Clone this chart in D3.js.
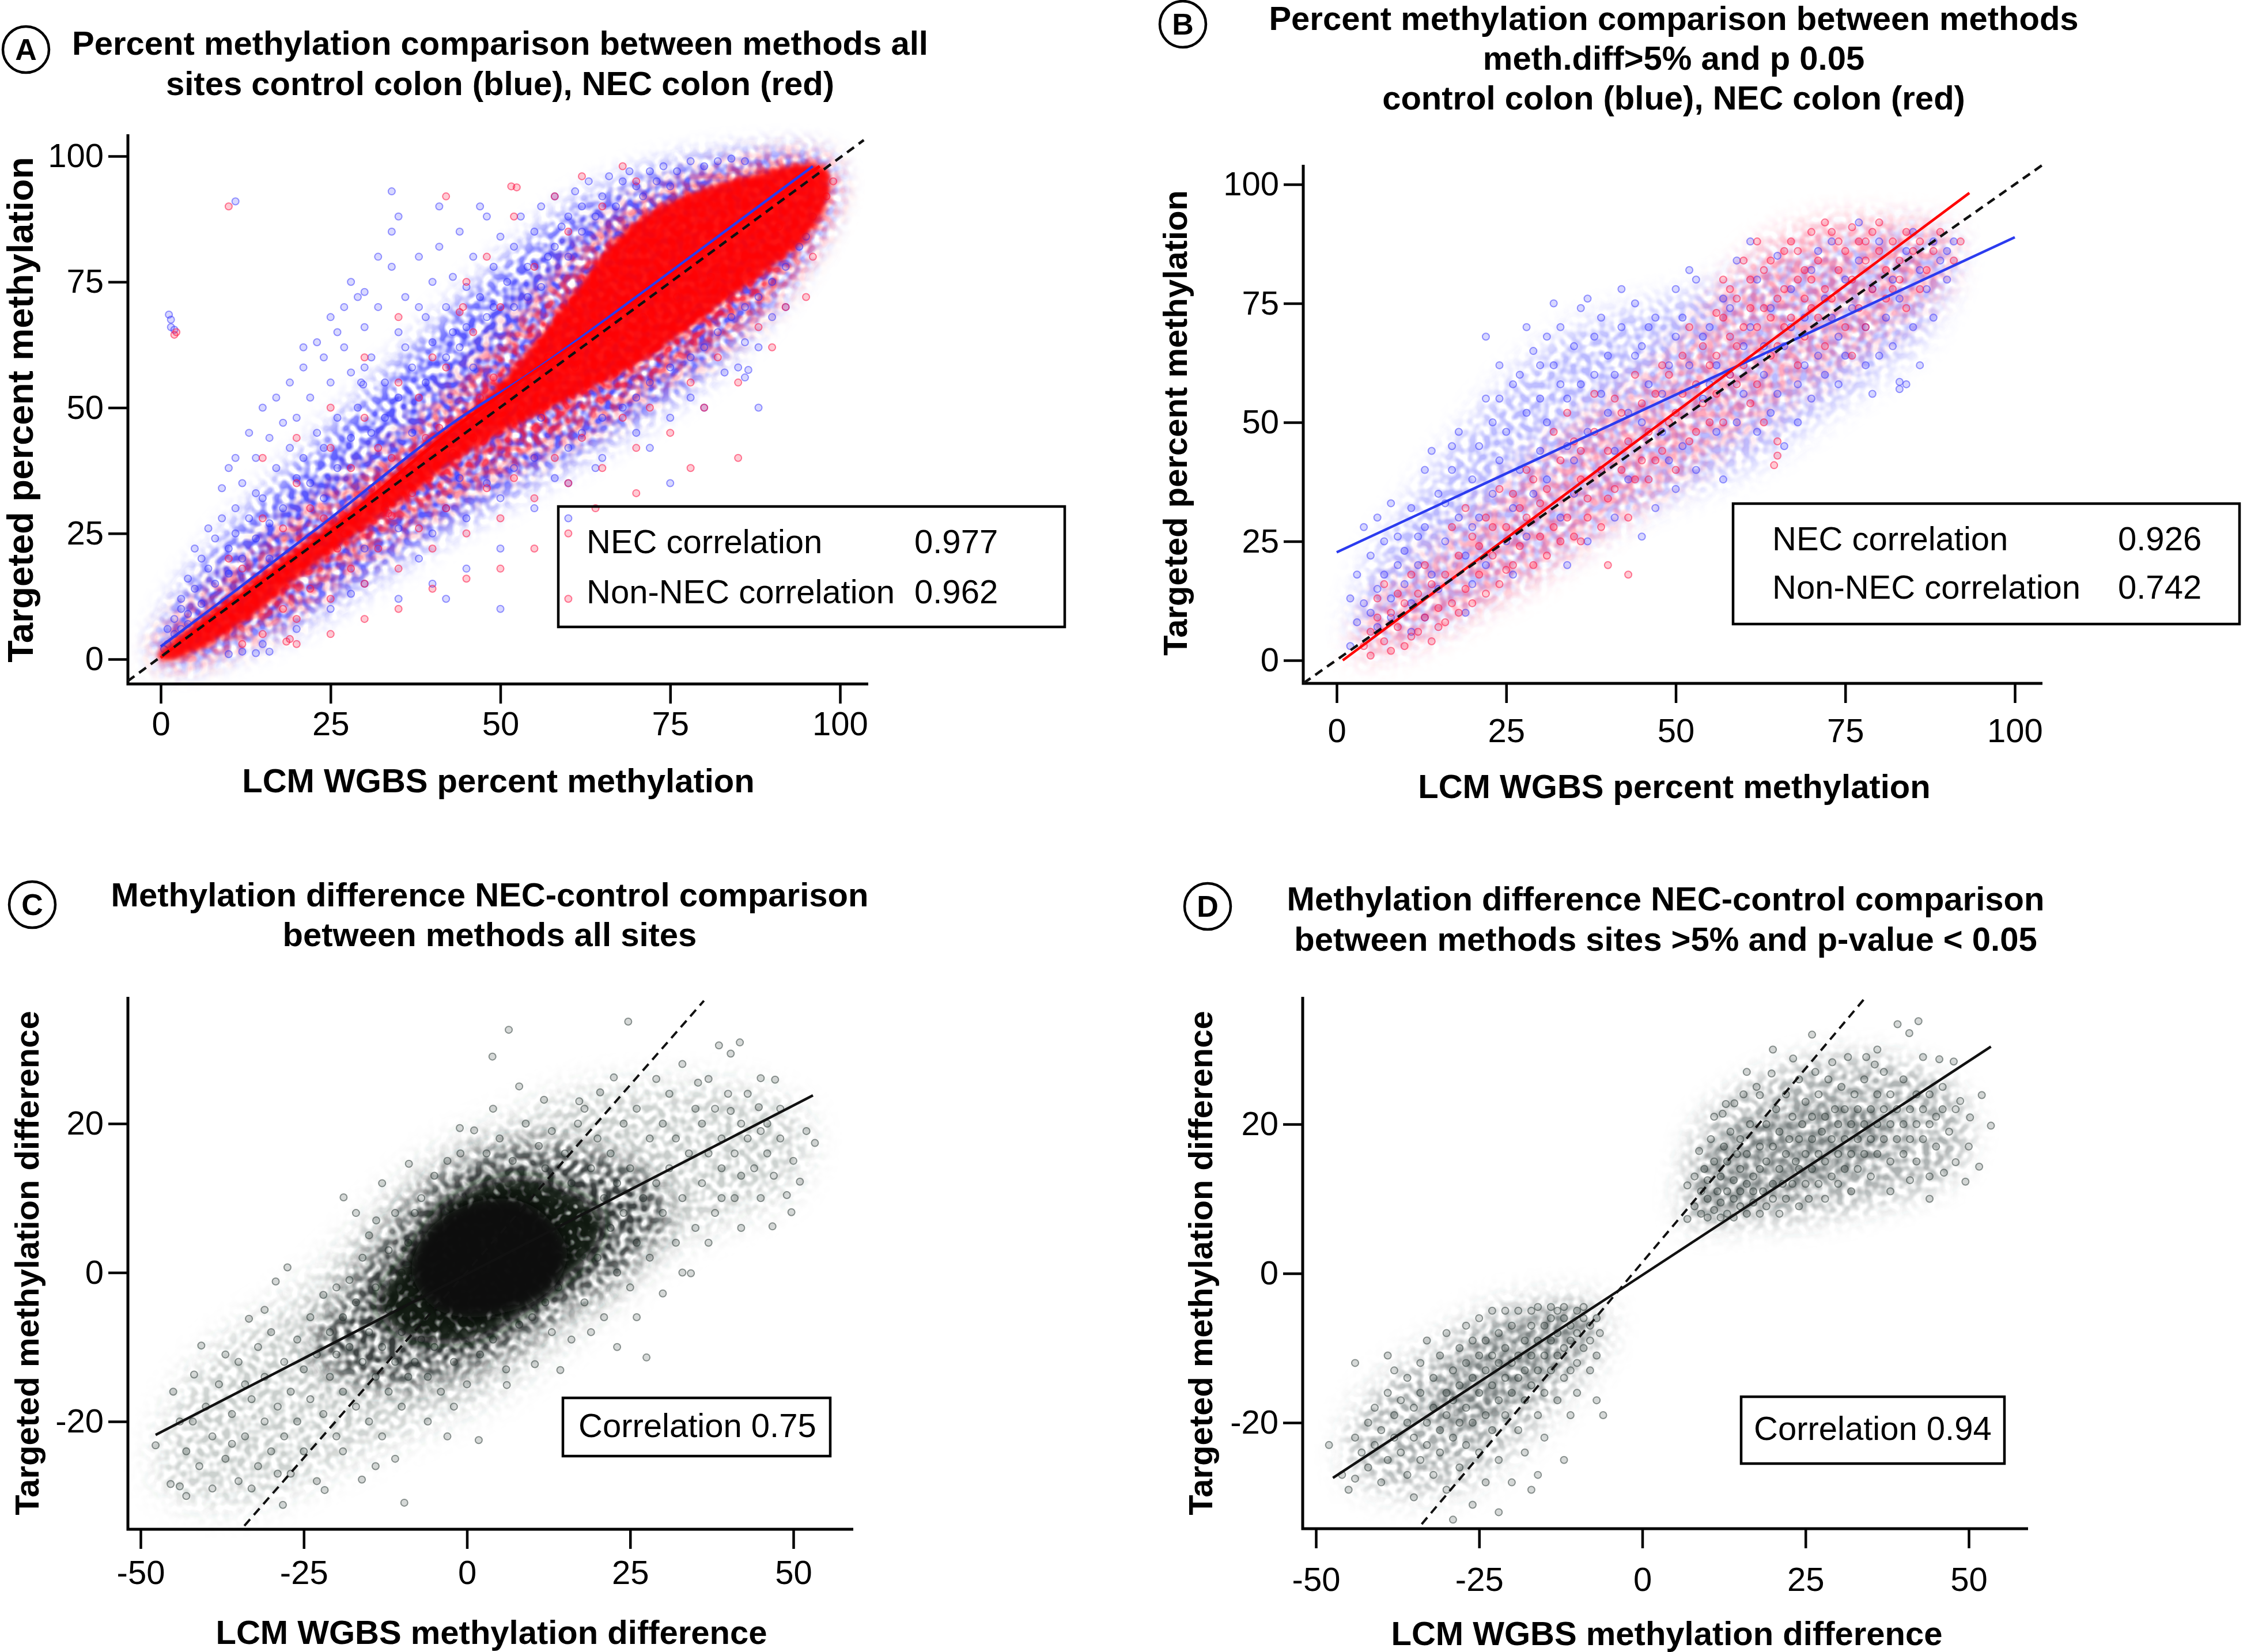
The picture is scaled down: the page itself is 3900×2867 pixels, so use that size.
<!DOCTYPE html>
<html>
<head>
<meta charset="utf-8">
<script src="https://cdn.jsdelivr.net/npm/d3@7"></script>
<style>
  body { margin: 0; background: #fff; }
  svg { display: block; }
</style>
</head>
<body>
<svg id="fig" width="3900" height="2867"></svg>
<script>
// ---------- tick labels ----------
const pctTicks = [0, 25, 50, 75, 100];
const diffXTicks = [-50, -25, 0, 25, 50];
const diffYTicks = [-20, 0, 20];

// ---------- text ----------
const titleA = ["Percent methylation comparison between methods all", "sites control colon (blue), NEC colon (red)"];
const titleB = ["Percent methylation comparison between methods", "meth.diff>5% and p 0.05", "control colon (blue), NEC colon (red)"];
const titleC = ["Methylation difference NEC-control comparison", "between methods all sites"];
const titleD = ["Methylation difference NEC-control comparison", "between methods sites >5% and p-value < 0.05"];
const legendA = [["NEC correlation", "0.977"], ["Non-NEC correlation", "0.962"]];
const legendB = [["NEC correlation", "0.926"], ["Non-NEC correlation", "0.742"]];
const corrC = "Correlation 0.75";
const corrD = "Correlation 0.94";

// ---------- fitted lines ----------
const aNecFit = [[0,0.3],[10,10.8],[24,24.6],[44,46.7],[64,65.5],[80,81.3],[97,98]];
const aCtrlFit = [[0,2.5],[10,12.6],[24,27],[44,47.9],[54,56.5],[70,72],[85,87],[96,98]];
const bNecFit = [[0.9,0],[93.3,98.2]];
const bCtrlFit = [[0,22.7],[100,88.9]];
const cFit = [[-47.7,-21.8],[53,23.8]];
const dFit = [[-47.4,-27.4],[53.4,30.4]];
const idA = [[-4.9,-4.4],[103.5,103.2]];
const idB = [[-4.9,-4.8],[104,104]];
const idC = [[-34.1,-34.0],[36.3,36.5]];
const idD = [[-33.8,-33.6],[34.3,37.1]];

// ---------- panel A: dense regions of the clouds ----------
const aCtrlHalo = [[-0.5,1],[2,10],[6,18],[11,26],[16,33],[22,41],[28,49],[34,57],[40,65],[46,73],[52,80],[58,87],[64,92],[71,96],[80,99],[90,100],[97,99.5],[99,96],[98,89],[95,81],[91,73],[86,65],[80,57],[73,50],[66,44],[58,38],[50,32],[42,26],[34,19],[26,12],[18,6],[10,2],[3,-0.5]];
const aNecHalo = [[-0.5,0.5],[3,7],[8,13],[14,20],[20,27],[26,33],[32,39],[38,46],[44,54],[50,63],[56,72],[62,81],[68,88],[75,93],[84,97],[93,99],[98,98],[99,93],[97,86],[94,79],[90,72],[85,66],[79,60],[72,54],[65,48],[58,43],[51,38],[44,33],[37,27],[30,21],[23,14],[16,7],[9,2.5],[3,0]];
const aNecCore = [[-0.5,0.5],[3,5],[8,10],[14,16],[20,22],[28,30],[36,39],[44,48],[50,55],[54,61],[58,68],[62,75],[66,82],[70,87],[75,91],[82,94.5],[89,97],[95,98.5],[98,97.5],[98.5,94],[97.5,89],[95,84],[91,79],[86,74],[80,68],[74,62],[68,57],[62,53],[56,49],[50,45],[44,40],[36,32],[28,24],[20,16],[14,9],[9,4.5],[5,1.5],[1,-0.3]];

// ---------- panel A: scattered points ----------
const aCtrlPts = [[3,12],[4,16],[5,14],[6,20],[7,18],[8,24],[5,22],[9,28],[10,22],[7,26],[4,9],[6,11],[8,15],[10,17],[11,30],[9,34],
[11,25],[12,35],[13,28],[14,40],[15,32],[16,44],[17,38],[18,30],[19,42],[12,20],[14,24],[16,27],[18,47],[20,36],[13,45],[15,50],[17,52],[19,55],[11,40],[20,48],[21,58],[10,38],[14,33],[16,20],
[21,40],[22,52],[23,45],[24,60],[25,55],[26,48],[27,62],[28,57],[29,50],[30,66],[22,35],[24,42],[26,38],[28,44],[23,63],[25,68],[27,70],[29,72],[21,62],[30,58],[26,65],[28,75],[24,32],
[31,60],[32,70],[33,55],[34,78],[35,65],[36,72],[37,58],[38,80],[39,68],[40,75],[31,45],[33,48],[35,52],[37,45],[39,55],[32,80],[34,85],[36,62],[38,70],[40,63],[30,73],[35,88],
[41,82],[42,70],[43,76],[44,85],[45,66],[46,80],[47,72],[48,88],[49,78],[50,84],[42,60],[44,62],[46,58],[48,68],[41,90],[43,65],[45,74],[47,90],[49,70],
[51,75],[52,82],[53,88],[54,78],[55,85],[56,90],[57,80],[58,92],[59,86],[60,88],[61,93],[62,90],[63,95],[64,88],[52,70],[54,72],[56,74],[58,82],[60,80],[62,85],
[65,92],[66,96],[67,90],[68,95],[69,97],[70,94],[72,97],[74,98],[76,97],[78,99],[80,98],[82,99],[84,99.5],[86,99],[71,92],[73,95],[75,94],
[40,25],[42,30],[45,28],[48,35],[50,32],[52,38],[55,40],[58,36],[60,42],[62,45],[65,48],[68,50],[70,52],[72,55],[75,58],[78,60],[80,62],[82,65],[84,68],[86,70],[88,72],[90,75],[92,78],[94,82],[85,58],[88,62],[80,50],[75,48],[70,45],[65,40],[60,35],[55,30],[50,22],[45,18],[40,15],[35,12],[30,15],[25,10],[20,6],[15,3],[30,22],[35,26],[38,20],[44,36],[56,48],[64,38],[72,42],[78,52],[90,68],[83,57],[92,70],[86,63],[96,88],[95,84],
[1.5,66],[1.5,67.5],[2,65.5],[1.2,68.5],[1,3],[2,5],[3,6],[1,6],[2,8],[4,7],[3,10],[0.5,2],[10,1],[12,1.5],[14,1.2],[16,1.5],
[34,93],[29.5,55],[29.8,54.6],[28,13],[42,12],[60,28],[75,35],[88,50],[50,10],[11,91],[86,56],[86.5,57.5]];
const aNecPts = [[10,20],[15,28],[20,35],[25,42],[30,48],[35,55],[40,60],[12,18],[18,26],[22,30],[28,38],[32,42],[38,52],[42,58],[46,65],[50,70],[55,78],[60,85],[65,90],[70,95],[20,44],[25,50],[30,60],[35,68],[15,40],[45,75],[52,88],[48,80],[58,92],[62,96],[68,98],
[15,5],[20,8],[25,12],[30,15],[35,18],[40,22],[45,25],[50,28],[55,32],[60,35],[65,38],[70,42],[75,45],[80,50],[85,55],[90,62],[95,72],[18,10],[22,14],[28,18],[32,22],[38,26],[42,30],[48,34],[52,36],[58,40],[62,44],[68,48],[72,50],[78,55],[82,60],[88,66],[92,70],[96,80],[25,5],[30,8],[35,10],[40,14],[45,16],[50,18],[55,22],[60,25],[20,3],[12,3],
[33,30],[33.5,29],[34,28.5],[33.2,31],[19,4],[18.5,3.5],[44,69],[44.5,70],[51.6,94],[52.4,93.8],[42,92],[10,90],[60,12],[64,30],[70,33],[85,40],[78,38],[98,92],[99,95],[2,64.5],[2.3,65],
[24,28],[27,25],[31,34],[36,36],[39,44],[43,41],[47,52],[26,22],[29,29],[34,40],[37,33],[41,46],[46,44],[49,56],[53,50],[57,60],[61,58],[66,64],[71,68],[76,72],[81,76],[86,80],[91,86]];

// ---------- panel B: dense regions and scattered points ----------
const bCtrlHalo = [[3,5],[5,20],[12,35],[20,50],[28,62],[36,70],[45,74],[55,78],[65,84],[75,88],[85,90],[91,88],[90,78],[85,66],[78,58],[70,50],[62,42],[52,36],[42,30],[32,22],[22,14],[12,6]];
const bNecHalo = [[3,1],[5,10],[12,20],[20,30],[28,40],[36,50],[44,58],[52,68],[58,80],[64,88],[72,92],[82,92],[90,90],[90,80],[84,72],[76,64],[68,56],[60,48],[52,40],[44,32],[36,24],[28,16],[20,10],[12,4]];
const bCtrlPts = [[2,3],[3,8],[4,12],[5,10],[6,15],[7,18],[8,13],[9,20],[5,22],[7,25],[3,18],[8,9],[10,16],[6,7],[9,26],[4,28],[10,23],[2,13],[6,30],[8,33],
[11,12],[12,20],[13,28],[14,18],[15,35],[16,25],[17,40],[18,30],[19,22],[20,38],[11,32],[13,40],[15,15],[17,45],[19,10],[12,26],[14,44],[16,33],[18,48],[20,28],[11,6],[13,9],[20,16],
[21,45],[22,55],[23,35],[24,62],[25,48],[26,58],[27,40],[28,52],[29,65],[30,44],[21,30],[23,50],[25,25],[27,60],[29,35],[22,68],[24,42],[26,32],[28,70],[30,55],[22,20],[26,18],[28,26],[24,55],[30,62],
[31,50],[32,62],[33,70],[34,55],[35,66],[36,74],[37,48],[38,60],[39,72],[40,52],[31,38],[33,30],[35,42],[37,25],[39,40],[32,75],[34,45],[36,58],[38,68],[40,64],[31,68],[33,58],[35,35],[37,76],[39,56],[34,20],
[41,60],[42,70],[43,52],[44,75],[45,66],[46,58],[47,72],[48,48],[49,62],[50,78],[41,44],[43,38],[45,50],[47,32],[49,42],[42,78],[44,64],[46,70],[48,56],[50,68],[41,30],[45,26],[50,36],
[51,72],[52,62],[53,80],[54,55],[55,70],[56,48],[57,76],[58,60],[59,84],[60,66],[51,45],[53,40],[55,58],[57,38],[59,50],[52,82],[54,68],[56,62],[58,74],[60,56],
[61,70],[62,80],[63,60],[64,74],[65,85],[66,66],[67,78],[68,58],[69,72],[70,82],[71,64],[72,76],[73,88],[74,68],[75,80],[62,48],[64,52],[66,45],[68,50],[70,55],[72,60],[74,58],[61,88],[63,66],[65,56],[67,70],[69,62],[71,86],[73,72],[75,64],
[76,74],[77,84],[78,70],[79,78],[80,88],[81,72],[82,80],[83,76],[84,86],[85,70],[86,82],[87,78],[88,88],[89,84],[90,86],[91,88],[78,62],[80,64],[82,66],[84,58],[86,62],[88,72],[83,57],[83,58.5],[79,56],[77,92],[85,90],[90,80]];
const bNecPts = [[4,3],[5,6],[6,9],[7,4],[8,10],[9,7],[10,12],[11,5],[12,14],[13,9],[14,16],[15,11],[5,1],[8,2],[10,3],[12,6],[14,4],[6,13],[9,14],[11,18],[13,20],[15,7],[7,16],
[16,18],[17,12],[18,22],[19,15],[20,26],[21,18],[22,30],[23,22],[24,16],[25,28],[26,35],[27,24],[28,30],[29,20],[30,33],[16,8],[18,10],[20,12],[22,14],[24,36],[26,20],[28,40],[30,26],[17,28],[19,32],[21,24],[23,28],[25,19],[27,32],[29,38],
[31,36],[32,28],[33,42],[34,30],[35,46],[36,38],[37,34],[38,48],[39,40],[40,44],[41,36],[42,52],[43,46],[44,38],[45,54],[31,22],[33,25],[35,26],[37,30],[39,28],[41,55],[43,30],[45,42],[32,48],[34,52],[36,44],[38,56],[40,34],[42,40],[44,60],[36,25],[43,18],[40,20],
[46,48],[47,56],[48,44],[49,60],[50,52],[51,64],[52,46],[53,58],[54,66],[55,50],[46,38],[48,62],[50,40],[52,70],[54,54],[47,42],[49,50],[51,56],[53,48],[55,62],
[56,64],[57,72],[58,68],[59,76],[60,62],[61,80],[62,70],[63,74],[64,84],[65,66],[66,78],[67,72],[68,86],[69,76],[70,80],[56,56],[58,60],[60,70],[62,58],[64,64],[66,70],[68,62],[70,74],[57,80],[59,66],[61,74],[63,82],[65,76],[67,88],[69,82],[56,73],[58,78],[60,84],[62,88],[64,72],[66,86],[68,80],[70,90],[59,58],[61,54],[63,50],[65,46],[64.5,41],[65,43],[57,50],[69,68],
[71,84],[72,78],[73,90],[74,82],[75,86],[76,80],[77,88],[78,84],[79,90],[80,86],[81,82],[82,88],[83,84],[84,90],[85,86],[86,88],[87,82],[88,86],[89,90],[71,72],[73,76],[75,70],[77,74],[79,78],[81,76],[83,80],[72,92],[74,88],[76,91],[78,88],[80,92],[82,78],[72,66],[76,64],[78,70],[84,74],[86,78],[92,88],[91,84]];

// ---------- panel C: dense regions and scattered points ----------
const cOuter = [[-47,-28],[-45,-18],[-38,-10],[-28,-4],[-20,2],[-12,10],[-4,16],[6,20],[16,24],[26,25],[36,25],[45,24],[52,20],[50,12],[42,8],[32,4],[24,-2],[16,-8],[8,-14],[0,-18],[-10,-22],[-20,-26],[-30,-30],[-40,-31]];
const cHalo = [[-24,-11],[-19,-3],[-12,6],[-4,13],[6,17],[16,17],[26,14],[31,8],[24,0],[14,-6],[4,-12],[-6,-15],[-16,-15]];
const cMid = [[-14,-4],[-9,3],[-4,9],[2,12],[9,13],[16,11],[21,8],[20,3],[14,-2],[8,-6],[2,-9],[-5,-9.5],[-11,-8]];
const cCore = [[-8.5,0.8],[-6,5.5],[-2,8.3],[3,9.8],[8.5,9.5],[12.5,7.2],[15.3,3],[14,-1],[10,-4],[4.5,-5.6],[0,-6],[-4.5,-5],[-7.3,-2.5]];
const cPts = [[-47.7,-23.2],[-45.4,-28.4],[-44,-28.7],[-43,-24],[-42,-20],[-41,-26],[-40.7,-9.8],[-41.8,-13.7],[-40,-18],[-39,-22],[-38,-15],[-37,-25],[-36,-19],[-35,-12],[-35,-28],[-34,-22],[-33.4,-6.2],[-33,-17],[-32,-26],[-32,-10],[-31,-20],[-31,-14],[-30,-24],[-30,-8],[-29.3,-1.2],[-29,-18],[-28.2,-31.2],[-28,-12],[-28,-22],[-27.5,0.7],[-27,-16],[-27,-27],[-26,-9],[-26,-20],[-25,-13],[-25,-24],[-24,-6],[-24,-17],[-23,-11],[-23,-28],[-22,-19],[-22,-3],[-21.8,-29.2],[-21,-14],[-21,-8],[-20,-22],[-20,-11],[-20,-2],[-45,-16],[-44,-20],[-43,-30],[-39,-29],[-37,-11],[-36,-23],[-34,-15],[-33,-29],[-31,-5],[-29,-27],
[-19,-16],[-19,-6],[-18.9,10.1],[-18,-10],[-18,-1],[-17,-18],[-17,-4],[-16.1,-27.8],[-16,-12],[-16,2],[-15,-8],[-15,-20],[-15,5],[-14,-14],[-14,-2],[-13.9,7],[-13,-10],[-13,-22],[-12,-5],[-12,3],[-12,-16],[-11,-12],[-11,8],[-10,-8],[-10,-18],[-10,0],[-9.6,-30.9],[-9,-14],[-9,4],[-8.9,14.6],[-11,-25],[-13,12],[-17,8],[-19,-24],[-14,-26],
[-8,-12],[-7,10],[-6,-14],[-5,13],[-4,-16],[-3,15],[-2,-12],[-1.1,19.4],[0,-15],[1.1,19.1],[-6,-20],[-3,-22],[-1,16],[-5,-10],[-8,8],[-7,-9],[-2,-18],
[2,-11],[3,16],[4,-9],[5,18],[6,-13],[7,15],[8,-7],[9,20],[10,-6],[11,17],[11.8,23.2],[12,-4],[13,19],[14,-2],[14.3,-13.1],[15,16],[10.4,-12.3],[6.1,-15.1],[1.8,-22.5],[3.9,29],[6.4,32.6],[4,22],[8,25],[12,14],[13,-8],
[16,4],[16,12],[17,20],[17.2,23],[18,8],[18,-4],[19,14],[20,2],[20,18],[20.4,24.2],[21,10],[21,-6],[22,6],[22,16],[22.5,26.2],[23,0],[23,12],[24,20],[24,8],[24.7,33.7],[25,-2],[25,14],[26,4],[26,22],[27,10],[27.5,-11.4],[28,18],[28,2],[29,12],[29,26],[30,-2.8],[30,8],[30,20],[19,-8],[23,-10],[26,-6],[16,-9],[18,22],
[31,14],[31,24],[32,4],[32,18],[33,10],[33,28],[34,16],[34.3,-0.1],[35,22],[35.4,25.5],[35,6],[36,12],[36,20],[37,16],[37,26],[38,8],[38,22],[38.6,30.5],[39,14],[39,18],[40,24],[40.4,21.7],[40.4,29.4],[41,10],[41,16],[41.8,30.9],[42,20],[42,13],[43,18],[43,24],[44,14],[44.7,22.2],[45,26.1],[45,10],[46,16],[46,20],[46.8,6.2],[47,13],[47.2,25.9],[48,18],[49,10.4],[49.7,8.1],[50,15],[51,12.2],[52,19],[53.3,17.4],[37,4],[33,0],[42,6],[45,19],[48,22],[39,10]];

// ---------- panel D: dense regions and scattered points ----------
const dHaloUp = [[7,7],[7,15],[10,21],[16,25],[24,28],[32,29],[40,28],[47,25],[50,20],[48,14],[42,11],[34,9],[25,7.5],[16,7]];
const dHaloLow = [[-6.5,-4.5],[-14,-4],[-22,-5],[-30,-9],[-38,-14],[-44,-20],[-44,-27],[-36,-29],[-27,-28],[-20,-23],[-13,-17],[-8,-12],[-6,-8]];
const dCoreUp = [[9,8],[9,14],[14,19],[22,22],[30,23],[36,22],[38,18],[33,14],[25,11],[16,8.5]];
const dCoreLow = [[-8,-5],[-15,-5],[-24,-8],[-30,-13],[-33,-18],[-30,-21],[-24,-20],[-18,-16],[-12,-12],[-9,-9]];
const dPts = [[6.9,7.3],[6.9,11.8],[8.7,16.4],[8,9],[8,13],[9,8],[9,11],[9.5,14],[10,7.5],[10,10],[10,12.5],[10.5,18],[11,8.5],[11,15],[11,21],[11.5,11],[12,7.5],[12,9.5],[12,13],[12.3,21.4],[12.8,22.7],[12.5,17],[13,8],[13,11],[13,15],[13.5,19],[14,7.5],[14,10],[14,12.5],[14.1,22.8],[14.5,16],[15,9],[15,11],[15,14],[15,18],[15.5,24],[16,8],[16,12],[16,16],[16.5,20],[17,9.5],[17,13],[17,11],[17.5,25],[18,8],[18,14],[18,17],[18,23.9],[18.5,11],[19,9],[19,15],[19,20],[19.8,26.8],[20,12],[20,17],[20,10],[20.5,22],[21,8],[21,14],[21,19],[21.5,12],[22,16],[22,10],[22,24],[22.5,18],[23,12],[23,21],[23.1,28.8],[23.5,15],[24,9],[24,14],[24,18],[24,26],[24.5,20],[25,12],[25,16],[25,23],[25.5,10],[26,18],[26,14],[26,21],[26.5,27],[27,12],[27,16],[27,24],[27.5,19],[28,15],[28,21],[28,10],[28.5,26],[29,18],[29,13],[29.1,28.3],[29.5,22],[30,16],[30,20],[30,12],[30.5,25],[31,18],[31,14],[31,22],[31.5,29],[32,16],[32,20],[32,11],[32.5,24],[33,18],[33,22],[33,14],[34,20],[34,16],[34,26],[34.3,29],[35,18],[35,22],[35,13],[35.6,28],[36,20],[36,16],[36,24],[37,18],[37,22],[37,27],[38,20],[38,15],[38,24],[39,18],[39,22],[39.1,33.4],[40,20],[40,16],[40,26],[40.9,32.2],[41,22],[41,18],[42,20],[42,24],[42,15],[42.3,33.8],[43,22],[43,18],[44,20],[44,24],[44,13],[45,21],[45,17],[45.5,28.7],[46,22],[46.2,13.5],[47,19],[47.7,28.4],[48,14.9],[48,22],[48.7,23.1],[49.5,12.3],[50.2,20.9],[51.6,14.3],[52,23.9],[53.4,19.8],[44,10],[38,11],[36,30],[26,32],[20,30],[16,27],[50,17],[46,25],[43,29],[41,12.5],
[-46,-27],[-45,-29],[-44,-27.5],[-44,-22],[-43,-24],[-42,-20],[-42,-26],[-41,-18],[-41,-23],[-40,-21],[-40,-28],[-39,-16],[-39,-25],[-38,-19],[-38,-22],[-38,-13],[-37,-24],[-37,-17],[-36,-20],[-36,-27],[-36,-14],[-35,-22],[-35,-18],[-35,-30],[-34,-16],[-34,-25],[-34,-12],[-33,-20],[-33,-23],[-33,-9],[-32,-18],[-32,-27],[-32,-14],[-31,-21],[-31,-11],[-31,-24],[-30,-16],[-30,-19],[-30,-29],[-30,-8],[-29,-22],[-29,-13],[-29,-17],[-28,-10],[-28,-20],[-28,-26],[-28,-15],[-27,-12],[-27,-18],[-27,-23],[-27,-7],[-26,-14],[-26,-20],[-26,-9],[-26,-31],[-25,-16],[-25,-11],[-25,-24],[-25,-6],[-24,-13],[-24,-19],[-24,-9],[-24,-28],[-23,-15],[-23,-11],[-23,-21],[-23,-5],[-22,-12],[-22,-17],[-22,-8],[-22,-25],[-21,-14],[-21,-10],[-21,-19],[-21,-5],[-20,-12],[-20,-16],[-20,-7],[-20,-28],[-19,-11],[-19,-14],[-19,-21],[-19,-5],[-18,-9],[-18,-13],[-18,-17],[-18,-24],[-17,-7],[-17,-11],[-17,-15],[-17,-5],[-16,-9],[-16,-13],[-16,-19],[-16,-4.5],[-15,-7],[-15,-11],[-15,-16],[-15,-22],[-14,-6],[-14,-9],[-14,-13],[-14,-4.5],[-13,-8],[-13,-11],[-13,-17],[-13,-5],[-12,-6],[-12,-10],[-12,-14],[-12,-4.5],[-11,-7],[-11,-9],[-11,-13],[-11,-19],[-10,-5],[-10,-8],[-10,-12],[-10,-16],[-9,-6],[-9,-10],[-9,-4.5],[-8,-7],[-8,-9],[-8,-13],[-7,-6],[-7,-11],[-7,-17],[-6.5,-8],[-48,-23],[-39,-11],[-44,-12],[-29,-33],[-22,-32],[-17,-29],[-12,-25],[-6,-19],[-16,-27]];

// ---------- drawing ----------
const FONT = '"Liberation Sans", Arial, Helvetica, sans-serif';
const svg = d3.select("#fig").attr("font-family", FONT);
svg.append("rect").attr("width", 3900).attr("height", 2867).attr("fill", "#fff");

const defs = svg.append("defs");
function softBlur(id, sd) {
    defs.append("filter").attr("id", id)
        .attr("x", "-20%").attr("y", "-20%").attr("width", "140%").attr("height", "140%")
        .append("feGaussianBlur").attr("stdDeviation", sd);
}
softBlur("blurCore", 5);
softBlur("blurC", 9);

// mottled texture so the dense regions read as many overlapping dots
function speckle(id, blur, freq, seed, gain, offset) {
    const f = defs.append("filter").attr("id", id)
        .attr("x", "-25%").attr("y", "-25%").attr("width", "150%").attr("height", "150%");
    f.append("feGaussianBlur").attr("in", "SourceGraphic").attr("stdDeviation", blur).attr("result", "soft");
    f.append("feTurbulence").attr("type", "fractalNoise").attr("baseFrequency", freq)
        .attr("numOctaves", 1).attr("seed", seed).attr("result", "noise");
    f.append("feColorMatrix").attr("in", "noise").attr("type", "matrix")
        .attr("values", `0 0 0 0 0  0 0 0 0 0  0 0 0 0 0  0 0 0 ${gain} ${offset}`).attr("result", "mask");
    f.append("feComposite").attr("in", "soft").attr("in2", "mask").attr("operator", "in");
}
speckle("wideA", 24, 0.08, 3, 3.4, -1.2);
speckle("wideB", 24, 0.08, 11, 3.4, -1.2);
speckle("wideC", 28, 0.085, 5, 3.4, -1.25);
speckle("midA", 12, 0.09, 7, 3.6, -1.2);
speckle("midDense", 14, 0.09, 9, 3.6, -0.7);

const RED = { fill: "rgba(255,20,60,0.22)", stroke: "rgba(255,20,70,0.55)" };
const BLUE = { fill: "rgba(60,60,255,0.2)", stroke: "rgba(50,50,255,0.5)" };
const GREY = { fill: "rgba(50,65,60,0.2)", stroke: "rgba(35,50,45,0.5)" };

function makePanel(p) {
    const g = svg.append("g");
    const x = d3.scaleLinear().domain(p.xd).range(p.xr);
    const y = d3.scaleLinear().domain(p.yd).range(p.yr);

    // axes (ticks through d3, the open frame drawn separately)
    const gx = g.append("g").attr("transform", `translate(0,${p.axisY})`)
        .call(d3.axisBottom(x).tickValues(p.xTicks).tickSize(34).tickPadding(p.xPad).tickFormat(d => String(d)));
    const gy = g.append("g").attr("transform", `translate(${p.axisX},0)`)
        .call(d3.axisLeft(y).tickValues(p.yTicks).tickSize(34).tickPadding(8).tickFormat(d => String(d)));
    [gx, gy].forEach(a => {
        a.attr("font-family", FONT).attr("font-size", 58);
        a.select(".domain").remove();
        a.selectAll(".tick line").attr("stroke", "#000").attr("stroke-width", 4.5);
        a.selectAll(".tick text").attr("fill", "#000");
    });
    g.append("path")
        .attr("d", `M${p.axisX},${p.yTop}V${p.axisY}H${p.xEnd}`)
        .attr("fill", "none").attr("stroke", "#000").attr("stroke-width", 5);

    // titles and labels
    p.title.forEach((t, i) => {
        g.append("text").attr("x", p.titleX).attr("y", p.titleY + i * p.titleStep)
            .attr("text-anchor", "middle").attr("font-weight", "bold").attr("font-size", 58).text(t);
    });
    g.append("circle").attr("cx", p.tag[0]).attr("cy", p.tag[1]).attr("r", 40)
        .attr("fill", "none").attr("stroke", "#000").attr("stroke-width", 4.5);
    g.append("text").attr("x", p.tag[0]).attr("y", p.tag[1] + 18).attr("text-anchor", "middle")
        .attr("font-weight", "bold").attr("font-size", 52).text(p.tagText);
    g.append("text").attr("x", p.xLab[0]).attr("y", p.xLab[1]).attr("text-anchor", "middle")
        .attr("font-weight", "bold").attr("font-size", 58).text(p.xLabel);
    g.append("text").attr("transform", `translate(${p.yLab[0]},${p.yLab[1]}) rotate(-90)`)
        .attr("text-anchor", "middle").attr("font-weight", "bold").attr("font-size", p.yLabSize)
        .text(p.yLabel);

    return { g, x, y };
}

function blob(P, pts, color, opacity, filter) {
    P.g.append("path").datum(pts)
        .attr("d", d3.line().x(d => P.x(d[0])).y(d => P.y(d[1])).curve(d3.curveCatmullRomClosed))
        .attr("fill", color).attr("fill-opacity", opacity).attr("filter", `url(#${filter})`);
}

function dots(P, pts, style) {
    P.g.append("g").selectAll("circle").data(pts).join("circle")
        .attr("cx", d => P.x(d[0])).attr("cy", d => P.y(d[1])).attr("r", 6)
        .attr("fill", style.fill).attr("stroke", style.stroke).attr("stroke-width", 2);
}

function fit(P, pts, color, width, dash) {
    const path = P.g.append("path").datum(pts)
        .attr("d", d3.line().x(d => P.x(d[0])).y(d => P.y(d[1])).curve(d3.curveMonotoneX))
        .attr("fill", "none").attr("stroke", color).attr("stroke-width", width);
    if (dash) path.attr("stroke-dasharray", dash);
}

function legend(P, box, rows, labelX, valueX, baselines) {
    P.g.append("rect").attr("x", box[0]).attr("y", box[1])
        .attr("width", box[2] - box[0]).attr("height", box[3] - box[1])
        .attr("fill", "none").attr("stroke", "#000").attr("stroke-width", 4.5);
    rows.forEach((r, i) => {
        P.g.append("text").attr("x", labelX).attr("y", baselines[i]).attr("font-size", 58).text(r[0]);
        if (r[1]) P.g.append("text").attr("x", valueX).attr("y", baselines[i]).attr("font-size", 58).text(r[1]);
    });
}

// ----- A -----
const A = makePanel({
    xd: [0, 100], xr: [279, 1458], yd: [0, 100], yr: [1144, 271],
    axisX: 222, axisY: 1187, yTop: 233, xEnd: 1507, xTicks: pctTicks, yTicks: pctTicks, xPad: 14,
    title: titleA, titleX: 868, titleY: 95, titleStep: 70, tag: [45, 86], tagText: "A",
    xLabel: "LCM WGBS percent methylation", xLab: [865, 1375],
    yLabel: "Targeted percent methylation", yLab: [57, 711], yLabSize: 63
});
blob(A, aCtrlHalo, "#2a2aff", 0.8, "wideA");
blob(A, aNecHalo, "#ff0a2a", 0.85, "wideB");
dots(A, aCtrlPts, BLUE);
dots(A, aNecPts, RED);
blob(A, aNecCore, "#ff0000", 0.93, "blurCore");
fit(A, aCtrlFit, "#2b3bef", 4.5);
fit(A, aNecFit, "#ff0000", 5);
fit(A, idA, "#111", 4.5, "15 10");
legend(A, [969, 879, 1848, 1088], legendA, 1018, 1587, [960, 1047]);

// ----- B -----
const B = makePanel({
    xd: [0, 100], xr: [2320, 3497], yd: [0, 100], yr: [1146, 320],
    axisX: 2262, axisY: 1186, yTop: 286, xEnd: 3545, xTicks: pctTicks, yTicks: pctTicks, xPad: 27,
    title: titleB, titleX: 2905, titleY: 52, titleStep: 69, tag: [2053, 42], tagText: "B",
    xLabel: "LCM WGBS percent methylation", xLab: [2906, 1385],
    yLabel: "Targeted percent methylation", yLab: [2060, 734], yLabSize: 58
});
blob(B, bCtrlHalo, "#5050ff", 0.4, "wideA");
blob(B, bNecHalo, "#ff2a60", 0.42, "wideB");
dots(B, bCtrlPts, BLUE);
dots(B, bNecPts, RED);
fit(B, bCtrlFit, "#2b3bef", 4.5);
fit(B, bNecFit, "#ff0000", 4.5);
fit(B, idB, "#111", 4.5, "15 10");
legend(B, [3008, 874, 3887, 1083], legendB, 3076, 3676, [955, 1039]);

// ----- C -----
const C = makePanel({
    xd: [-50, 50], xr: [244, 1377], yd: [-20, 20], yr: [2467, 1950],
    axisX: 222, axisY: 2654, yTop: 1730, xEnd: 1481, xTicks: diffXTicks, yTicks: diffYTicks, xPad: 20,
    title: titleC, titleX: 850, titleY: 1573, titleStep: 69, tag: [56, 1570], tagText: "C",
    xLabel: "LCM WGBS methylation difference", xLab: [853, 2853],
    yLabel: "Targeted methylation difference", yLab: [67, 2192], yLabSize: 58
});
blob(C, cOuter, "#34403c", 0.26, "wideC");
blob(C, cHalo, "#1e2624", 0.85, "wideA");
dots(C, cPts, GREY);
blob(C, cMid, "#101312", 0.97, "midDense");
blob(C, cCore, "#0c0e0d", 0.98, "blurC");
fit(C, cFit, "#111", 4.5);
fit(C, idC, "#111", 4, "15 10");
legend(C, [977, 2426, 1441, 2527], [[corrC]], 1004, 0, [2494]);

// ----- D -----
const D = makePanel({
    xd: [-50, 50], xr: [2284, 3417], yd: [-20, 20], yr: [2469, 1951],
    axisX: 2261, axisY: 2653, yTop: 1730, xEnd: 3520, xTicks: diffXTicks, yTicks: diffYTicks, xPad: 33,
    title: titleD, titleX: 2891, titleY: 1580, titleStep: 70, tag: [2096, 1573], tagText: "D",
    xLabel: "LCM WGBS methylation difference", xLab: [2893, 2855],
    yLabel: "Targeted methylation difference", yLab: [2104, 2192], yLabSize: 58
});
blob(D, dHaloUp, "#3a4541", 0.42, "wideB");
blob(D, dHaloLow, "#3a4541", 0.42, "wideC");
blob(D, dCoreUp, "#2e3734", 0.35, "midA");
blob(D, dCoreLow, "#2e3734", 0.35, "midA");
dots(D, dPts, GREY);
fit(D, dFit, "#111", 4.5);
fit(D, idD, "#111", 4, "15 10");
legend(D, [3022, 2424, 3479, 2540], [[corrD]], 3044, 0, [2499]);
</script>
</body>
</html>
